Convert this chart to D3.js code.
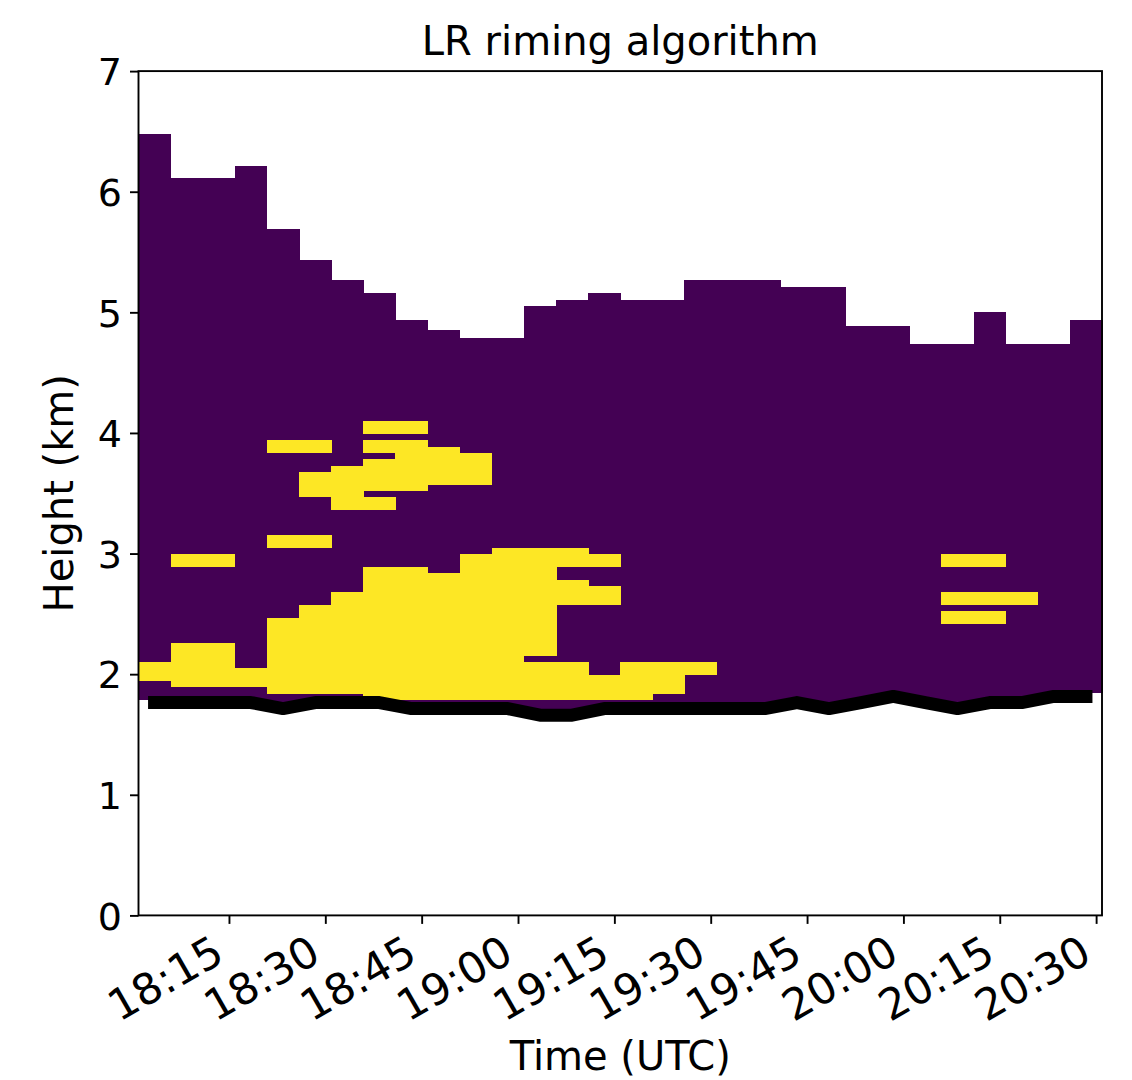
<!DOCTYPE html>
<html>
<head>
<meta charset="utf-8">
<script src="https://cdn.jsdelivr.net/npm/d3@7"></script>
<style>
  html, body { margin: 0; padding: 0; background: #ffffff; }
  svg text { font-family: "DejaVu Sans", sans-serif; fill: #000; }
</style>
</head>
<body>
<svg id="chart" width="1132" height="1080"></svg>
<script>
// Radar scan times (centre of each 5-minute scan), UTC
const scanTimes = [
  "18:03:25", "18:08:25", "18:13:25", "18:18:25", "18:23:25", "18:28:25",
  "18:33:25", "18:38:25", "18:43:25", "18:48:25", "18:53:25", "18:58:25",
  "19:03:25", "19:08:25", "19:13:25", "19:18:25", "19:23:25", "19:28:25",
  "19:33:25", "19:38:25", "19:43:25", "19:48:25", "19:53:25", "19:58:25",
  "20:03:25", "20:08:25", "20:13:25", "20:18:25", "20:23:25", "20:28:25"
];

// Echo top of each scan (km)
const echoTopKm = [
  6.48, 6.11, 6.11, 6.21, 5.69, 5.43, 5.27, 5.16, 4.94, 4.85,
  4.79, 4.79, 5.05, 5.10, 5.16, 5.10, 5.10, 5.27, 5.27, 5.27,
  5.21, 5.21, 4.89, 4.89, 4.74, 4.74, 5.00, 4.74, 4.74, 4.94
];

// Lowest usable gate of each scan (km)
const echoBaseKm = [
  1.79, 1.79, 1.79, 1.79, 1.74, 1.79, 1.79, 1.79, 1.74, 1.74,
  1.74, 1.74, 1.69, 1.69, 1.74, 1.74, 1.74, 1.74, 1.74, 1.74,
  1.79, 1.74, 1.79, 1.84, 1.79, 1.74, 1.79, 1.79, 1.84, 1.84
];

// Ground elevation below the radar beam (km)
const groundKm = [
  1.765, 1.765, 1.765, 1.765, 1.715, 1.765, 1.765, 1.765, 1.715, 1.715,
  1.715, 1.715, 1.66, 1.66, 1.715, 1.715, 1.715, 1.715, 1.715, 1.715,
  1.765, 1.715, 1.765, 1.815, 1.765, 1.715, 1.765, 1.765, 1.815, 1.815
];

// Layers flagged as rimed: [scan index, bottom km, top km]
const rimedLayers = [
  [0, 1.94, 2.10],
  [1, 1.89, 2.26], [1, 2.89, 3.00],
  [2, 1.89, 2.26], [2, 2.89, 3.00],
  [3, 1.89, 2.05],
  [4, 1.835, 2.465], [4, 3.045, 3.15], [4, 3.83, 3.94],
  [5, 1.835, 2.575], [5, 3.045, 3.15], [5, 3.47, 3.675], [5, 3.83, 3.94],
  [6, 1.835, 2.68], [6, 3.36, 3.725],
  [7, 1.785, 2.89], [7, 3.36, 3.47], [7, 3.52, 3.78], [7, 3.83, 3.94], [7, 3.99, 4.10],
  [8, 1.785, 2.89], [8, 3.52, 3.94], [8, 3.99, 4.10],
  [9, 1.785, 2.84], [9, 3.57, 3.88],
  [10, 1.785, 3.00], [10, 3.57, 3.83],
  [11, 1.785, 3.045],
  [12, 1.785, 2.10], [12, 2.15, 3.045],
  [13, 1.785, 2.10], [13, 2.575, 2.78], [13, 2.89, 3.045],
  [14, 1.785, 1.99], [14, 2.575, 2.73], [14, 2.89, 3.00],
  [15, 1.785, 2.10],
  [16, 1.835, 2.10],
  [17, 1.99, 2.10],
  [25, 2.415, 2.52], [25, 2.575, 2.68], [25, 2.89, 3.00],
  [26, 2.415, 2.52], [26, 2.575, 2.68], [26, 2.89, 3.00],
  [27, 2.575, 2.68]
];

const timeTickLabels = ["18:15", "18:30", "18:45", "19:00", "19:15", "19:30", "19:45", "20:00", "20:15", "20:30"];
const heightTicks = [0, 1, 2, 3, 4, 5, 6, 7];

const colorNoRime = "#440154";
const colorRime = "#fde725";

const parseClock = d3.utcParse("%H:%M:%S");
const parseHM = d3.utcParse("%H:%M");
const scanDates = scanTimes.map(parseClock);
const halfScan = 2.5 * 60 * 1000;

const plot = { left: 138.5, right: 1102, top: 71.1, bottom: 915.4 };

const x = d3.scaleUtc()
  .domain([new Date(scanDates[0].getTime() - halfScan),
           new Date(scanDates[scanDates.length - 1].getTime() + halfScan)])
  .range([plot.left, plot.right]);

const y = d3.scaleLinear().domain([0, 7]).range([plot.bottom, plot.top]);

const svg = d3.select("#chart");

const xl = d => x(new Date(d.getTime() - halfScan));
const xr = d => x(new Date(d.getTime() + halfScan));

// Echo columns (no riming)
svg.append("g").selectAll("rect")
  .data(scanDates)
  .join("rect")
  .attr("x", d => xl(d))
  .attr("width", d => xr(d) - xl(d) + 0.5)
  .attr("y", (d, i) => y(echoTopKm[i]))
  .attr("height", (d, i) => y(echoBaseKm[i]) - y(echoTopKm[i]))
  .attr("fill", colorNoRime)
  .attr("shape-rendering", "crispEdges");

// Rimed layers
svg.append("g").selectAll("rect")
  .data(rimedLayers)
  .join("rect")
  .attr("x", d => xl(scanDates[d[0]]))
  .attr("width", d => xr(scanDates[d[0]]) - xl(scanDates[d[0]]) + 0.5)
  .attr("y", d => y(d[2]))
  .attr("height", d => y(d[1]) - y(d[2]))
  .attr("fill", colorRime)
  .attr("shape-rendering", "crispEdges");

// Ground line
svg.append("path")
  .datum(groundKm)
  .attr("d", d3.line().x((d, i) => x(scanDates[i])).y(d => y(d)))
  .attr("fill", "none")
  .attr("stroke", "#000")
  .attr("stroke-width", 13)
  .attr("stroke-linecap", "square")
  .attr("stroke-linejoin", "round");

// Axes
const xTickFont = 43;
const yTickFont = 38;
const xAxis = d3.axisBottom(x)
  .tickValues(timeTickLabels.map(parseHM))
  .tickFormat(d3.utcFormat("%H:%M"))
  .tickSize(8.5)
  .tickSizeOuter(0);

const gx = svg.append("g")
  .attr("transform", `translate(0,${plot.bottom})`)
  .call(xAxis);
gx.select(".domain").remove();
gx.selectAll(".tick line").attr("stroke", "#000").attr("stroke-width", 1.9);
gx.selectAll(".tick text")
  .attr("font-size", xTickFont)
  .attr("text-anchor", "end")
  .attr("dy", null)
  .attr("y", null)
  .attr("transform", `translate(-3,45) rotate(-30)`);

const yAxis = d3.axisLeft(y)
  .tickValues(heightTicks)
  .tickFormat(d3.format("d"))
  .tickSize(8.5)
  .tickPadding(8)
  .tickSizeOuter(0);

const gy = svg.append("g")
  .attr("transform", `translate(${plot.left},0)`)
  .call(yAxis);
gy.select(".domain").remove();
gy.selectAll(".tick line").attr("stroke", "#000").attr("stroke-width", 1.9);
gy.selectAll(".tick text")
  .attr("font-size", yTickFont)
  .attr("dy", "0.36em");

// Frame
svg.append("rect")
  .attr("x", plot.left)
  .attr("y", plot.top)
  .attr("width", plot.right - plot.left)
  .attr("height", plot.bottom - plot.top)
  .attr("fill", "none")
  .attr("stroke", "#000")
  .attr("stroke-width", 1.9);

// Titles
svg.append("text")
  .attr("x", (plot.left + plot.right) / 2)
  .attr("y", 55)
  .attr("text-anchor", "middle")
  .attr("font-size", 40)
  .text("LR riming algorithm");

svg.append("text")
  .attr("x", (plot.left + plot.right) / 2)
  .attr("y", 1070)
  .attr("text-anchor", "middle")
  .attr("font-size", 40)
  .text("Time (UTC)");

svg.append("text")
  .attr("transform", `translate(73,${(plot.top + plot.bottom) / 2}) rotate(-90)`)
  .attr("text-anchor", "middle")
  .attr("font-size", 40)
  .text("Height (km)");
</script>
</body>
</html>
